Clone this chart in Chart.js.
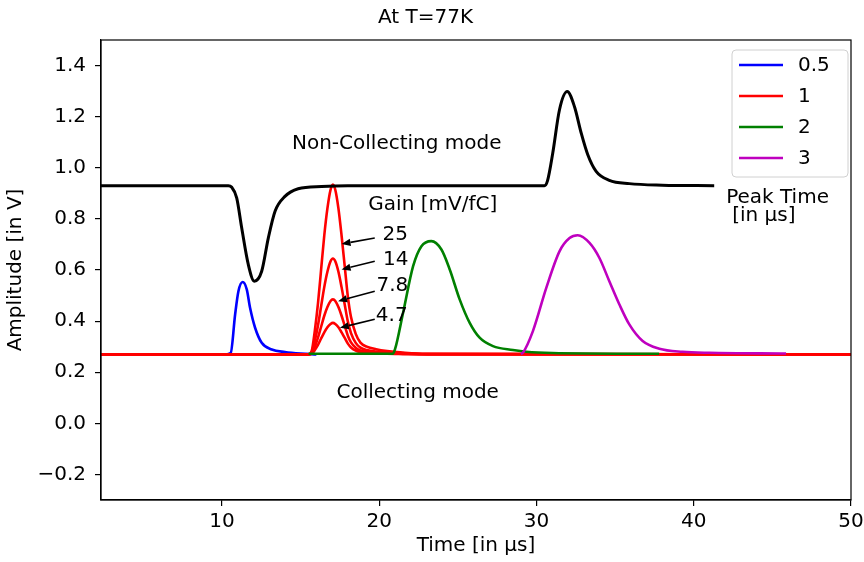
<!DOCTYPE html>
<html><head><meta charset="utf-8">
<script src="https://cdn.jsdelivr.net/npm/chart.js@4/dist/chart.umd.min.js"></script>
<style>html,body{margin:0;padding:0;background:#fff;overflow:hidden;}</style>
</head><body>
<canvas id="c" width="864" height="562"></canvas>
<script>
// ---- data ----
const xTickValues = [10, 20, 30, 40, 50];
const yTickValues = [-0.2, 0.0, 0.2, 0.4, 0.6, 0.8, 1.0, 1.2, 1.4];
const peakTimeLabels = ['0.5', '1', '2', '3'];
const gainLabels = ['25', '14', '7.8', '4.7'];

const blackX = [2.3, 10.4, 10.6, 10.93, 11.25, 11.67, 12.05, 12.52, 12.94, 13.37, 14.0, 14.84, 16.33, 18, 30.5, 30.7, 31.03, 31.46, 31.95, 32.41, 32.84, 33.26, 33.79, 34.63, 35.9, 38, 41.3];
const blackY = [0.93, 0.93, 0.925, 0.882, 0.764, 0.621, 0.556, 0.595, 0.725, 0.83, 0.888, 0.918, 0.927, 0.93, 0.93, 0.95, 1.057, 1.227, 1.298, 1.24, 1.136, 1.051, 0.986, 0.951, 0.938, 0.932, 0.93];

const blueX = [10.3, 10.55, 10.83, 11.04, 11.31, 11.57, 11.78, 12.1, 12.52, 13.16, 14.0, 15.0, 16.0];
const blueY = [0.27, 0.275, 0.426, 0.517, 0.553, 0.524, 0.452, 0.374, 0.315, 0.289, 0.279, 0.273, 0.27];

const redX   = [2.3, 15.5, 15.7, 15.9, 16.1, 16.3, 16.5, 16.7, 16.9, 17.05, 17.2, 17.4, 17.6, 17.8, 18.0, 18.2, 18.5, 18.8, 19.2, 19.8, 20.5, 21.5, 23, 50];
const red25Y = [0.27, 0.27, 0.283, 0.363, 0.469, 0.602, 0.735, 0.841, 0.914, 0.934, 0.914, 0.841, 0.735, 0.615, 0.496, 0.416, 0.350, 0.316, 0.300, 0.290, 0.283, 0.277, 0.272, 0.27];
const red14Y = [0.27, 0.27, 0.278, 0.323, 0.383, 0.458, 0.533, 0.593, 0.634, 0.645, 0.634, 0.593, 0.533, 0.465, 0.398, 0.353, 0.315, 0.296, 0.287, 0.281, 0.278, 0.274, 0.271, 0.27];
const red78Y = [0.27, 0.27, 0.274, 0.300, 0.335, 0.378, 0.421, 0.455, 0.479, 0.485, 0.479, 0.455, 0.421, 0.382, 0.343, 0.317, 0.296, 0.285, 0.280, 0.276, 0.274, 0.272, 0.271, 0.27];
const red47Y = [0.27, 0.27, 0.272, 0.287, 0.307, 0.332, 0.356, 0.376, 0.389, 0.393, 0.389, 0.376, 0.356, 0.334, 0.312, 0.297, 0.285, 0.279, 0.276, 0.274, 0.272, 0.271, 0.270, 0.27];

const greenX = [15.5, 20.85, 21.0, 21.51, 22.15, 22.68, 23.31, 23.95, 24.48, 25.11, 25.75, 26.38, 27.23, 28.5, 29.35, 31.0, 37.8];
const greenY = [0.272, 0.272, 0.29, 0.432, 0.615, 0.693, 0.713, 0.68, 0.602, 0.485, 0.393, 0.335, 0.302, 0.287, 0.28, 0.275, 0.272];

const magentaX = [29.0, 29.13, 29.77, 30.62, 31.46, 32.1, 32.62, 33.37, 34.0, 34.63, 35.27, 35.9, 36.75, 37.81, 39.29, 40.98, 45.87];
const magentaY = [0.272, 0.276, 0.361, 0.53, 0.673, 0.725, 0.736, 0.706, 0.647, 0.556, 0.465, 0.387, 0.322, 0.292, 0.28, 0.276, 0.273];

// ---- annotations (data coordinates) ----
const textNotes = [
  {text: 'Non-Collecting mode', x: 21.11, y: 1.072, align: 'center'},
  {text: 'Gain [mV/fC]', x: 23.4, y: 0.836, align: 'center'},
  {text: gainLabels[0], x: 20.2, y: 0.719, align: 'left'},
  {text: gainLabels[1], x: 20.24, y: 0.621, align: 'left'},
  {text: gainLabels[2], x: 19.82, y: 0.517, align: 'left'},
  {text: gainLabels[3], x: 19.78, y: 0.40, align: 'left'},
  {text: 'Collecting mode', x: 22.44, y: 0.099, align: 'center'},
  {text: 'Peak Time', x: 42.06, y: 0.862, align: 'left'},
  {text: '[in µs]', x: 42.44, y: 0.793, align: 'left'}
];
const arrowNotes = [
  {x0: 19.71, y0: 0.725, x1: 17.6, y1: 0.702},
  {x0: 19.71, y0: 0.634, x1: 17.6, y1: 0.602},
  {x0: 19.71, y0: 0.517, x1: 17.38, y1: 0.478},
  {x0: 19.71, y0: 0.407, x1: 17.49, y1: 0.374}
];

const FONT = '"DejaVu Sans", sans-serif';
const FS = 20;
const pts = (xs, ys) => xs.map((v, i) => ({x: v, y: ys[i]}));

const datasets = [
  {label: peakTimeLabels[0], data: pts(blueX, blueY), borderColor: '#0000ff', order: 3},
  {label: peakTimeLabels[1], data: pts(redX, red25Y), borderColor: '#ff0000', order: 2},
  {label: peakTimeLabels[1], data: pts(redX, red14Y), borderColor: '#ff0000', order: 2},
  {label: peakTimeLabels[1], data: pts(redX, red78Y), borderColor: '#ff0000', order: 2},
  {label: peakTimeLabels[1], data: pts(redX, red47Y), borderColor: '#ff0000', order: 2},
  {label: peakTimeLabels[2], data: pts(greenX, greenY), borderColor: '#008000', order: 1},
  {label: peakTimeLabels[3], data: pts(magentaX, magentaY), borderColor: '#bf00bf', order: 0},
  {label: 'Non-Collecting mode', data: pts(blackX, blackY), borderColor: '#000000', order: 0, borderWidth: 3}
].map(d => Object.assign({borderWidth: 2.6, pointRadius: 0, fill: false, cubicInterpolationMode: 'monotone'}, d));

const overlay = {
  id: 'overlay',
  afterDatasetsDraw(chart) {
    const {ctx, chartArea: a, scales: {x, y}} = chart;
    ctx.save();
    // frame
    ctx.strokeStyle = '#000'; ctx.lineWidth = 1.2;
    ctx.strokeRect(a.left, a.top, a.right - a.left, a.bottom - a.top);
    // texts
    ctx.font = FS + 'px ' + FONT; ctx.fillStyle = '#000'; ctx.textBaseline = 'alphabetic';
    textNotes.forEach(n => { ctx.textAlign = n.align; ctx.fillText(n.text, x.getPixelForValue(n.x), y.getPixelForValue(n.y)); });
    // arrows
    ctx.lineWidth = 1.6;
    arrowNotes.forEach(n => {
      const px0 = x.getPixelForValue(n.x0), py0 = y.getPixelForValue(n.y0);
      const px1 = x.getPixelForValue(n.x1), py1 = y.getPixelForValue(n.y1);
      const ang = Math.atan2(py1 - py0, px1 - px0);
      const L = 9, W = 3.6;
      const bx = px1 - L * Math.cos(ang), by = py1 - L * Math.sin(ang);
      ctx.beginPath(); ctx.moveTo(px0, py0); ctx.lineTo(bx, by); ctx.stroke();
      ctx.beginPath(); ctx.moveTo(px1, py1);
      ctx.lineTo(bx + W * Math.sin(ang), by - W * Math.cos(ang));
      ctx.lineTo(bx - W * Math.sin(ang), by + W * Math.cos(ang));
      ctx.closePath(); ctx.fill();
    });
    // legend box
    const bl = a.right - 119, bt = a.top + 10, bw = 116, bh = 127, r = 4;
    ctx.beginPath();
    ctx.moveTo(bl + r, bt); ctx.lineTo(bl + bw - r, bt); ctx.quadraticCurveTo(bl + bw, bt, bl + bw, bt + r);
    ctx.lineTo(bl + bw, bt + bh - r); ctx.quadraticCurveTo(bl + bw, bt + bh, bl + bw - r, bt + bh);
    ctx.lineTo(bl + r, bt + bh); ctx.quadraticCurveTo(bl, bt + bh, bl, bt + bh - r);
    ctx.lineTo(bl, bt + r); ctx.quadraticCurveTo(bl, bt, bl + r, bt); ctx.closePath();
    ctx.fillStyle = 'rgba(255,255,255,0.8)'; ctx.fill();
    ctx.strokeStyle = '#d0d0d0'; ctx.lineWidth = 1; ctx.stroke();
    ctx.textAlign = 'left'; ctx.textBaseline = 'middle'; ctx.font = FS + 'px ' + FONT;
    peakTimeLabels.forEach((lbl, i) => {
      const ds = chart.data.datasets.find(d => d.label === lbl);
      const ry = bt + 15 + i * 31;
      ctx.strokeStyle = ds.borderColor; ctx.lineWidth = 2.6;
      ctx.beginPath(); ctx.moveTo(bl + 7, ry); ctx.lineTo(bl + 51, ry); ctx.stroke();
      ctx.fillStyle = '#000'; ctx.fillText(lbl, bl + 66, ry + 1);
    });
    ctx.restore();
  }
};

const axisCommon = {
  grid: {display: true, drawOnChartArea: false, drawTicks: true, tickLength: 6, color: '#000', lineWidth: 1.2},
  border: {display: true, color: '#000', width: 1.2}
};

new Chart(document.getElementById('c'), {
  type: 'line',
  data: {datasets},
  options: {
    responsive: false, animation: false, devicePixelRatio: 1,
    layout: {padding: {top: 0, right: 13, bottom: 0, left: 0}},
    plugins: {
      legend: {display: false},
      tooltip: {enabled: false},
      title: {display: true, text: 'At T=77K', color: '#000', font: {family: FONT, size: FS, weight: 'normal'}, padding: {top: 6, bottom: 10}}
    },
    scales: {
      x: Object.assign({}, axisCommon, {
        type: 'linear', min: 2.3, max: 50,
        afterBuildTicks: s => { s.ticks = xTickValues.map(v => ({value: v})); },
        afterFit: s => { s.height = 62; s.paddingLeft = 0; s.paddingRight = 0; },
        ticks: {color: '#000', font: {family: FONT, size: FS}, padding: 4, maxRotation: 0, autoSkip: false, callback: v => String(v)},
        title: {display: true, text: 'Time [in µs]', color: '#000', font: {family: FONT, size: FS}, padding: {top: 0, bottom: 4}}
      }),
      y: Object.assign({}, axisCommon, {
        type: 'linear', min: -0.3, max: 1.5,
        afterBuildTicks: s => { s.ticks = yTickValues.map(v => ({value: v})); },
        afterFit: s => { s.width = 101; s.paddingTop = 0; s.paddingBottom = 0; },
        ticks: {color: '#000', font: {family: FONT, size: FS}, padding: 9, autoSkip: false,
          callback: v => (v < 0 ? '\u2212' : '') + Math.abs(v).toFixed(1)},
        title: {display: true, text: 'Amplitude [in V]', color: '#000', font: {family: FONT, size: FS}, padding: {top: 4, bottom: 0}}
      })
    }
  },
  plugins: [overlay]
});
</script>
</body></html>
